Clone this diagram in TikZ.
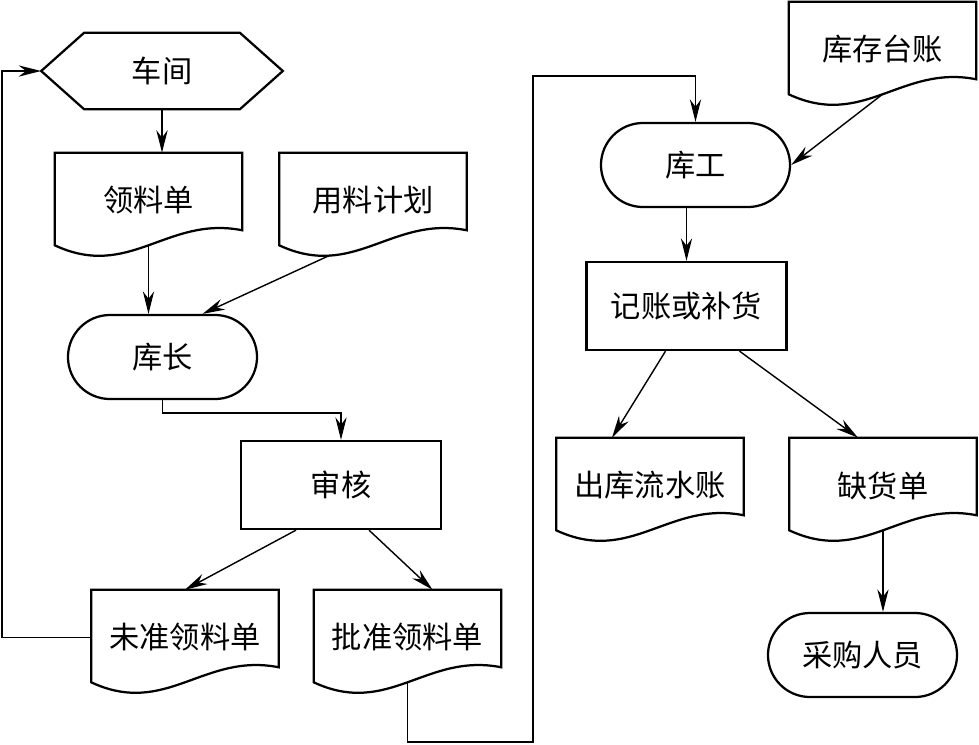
\documentclass[tikz,border=0pt]{standalone}
\usepackage{fontspec}
\setmainfont{Noto Sans CJK SC}
\usetikzlibrary{calc}
\usetikzlibrary{arrows.meta}
\usetikzlibrary{shapes.misc}

\begin{document}
\begin{tikzpicture}[x=0.025cm, y=-0.025cm,
		box/.style={font=\fontsize{21.5}{26}\selectfont, inner sep=0pt},
		doc/.style={box, minimum width=4.675cm, minimum height=2.375cm},
		hexa/.style={box, minimum width=6.025cm, minimum height=1.9cm},
		term/.style={box, draw, line width=1.6pt, rounded rectangle, minimum width=4.725cm, minimum height=2.1cm},
		proc/.style={box, draw, line width=1.6pt, minimum width=5cm, minimum height=2.2cm},
		outline/.style={line width=1.6pt, line join=miter},
		arr/.style={-{Stealth[length=16pt, width=8pt]}, line width=1pt}]
	\useasboundingbox (0,0) rectangle (979,744);
	% left column
	\node[hexa] (cj) at (162,71) {车间};
	\node[doc] (lld) at (148.5,200.5) {领料单};
	\node[doc] (yljh) at (373,200.5) {用料计划};
	\node[term] (kz) at (162.5,357) {库长};
	\node[proc] (sh) at (341,485) {审核};
	\node[doc] (wz) at (185,637.5) {未准领料单};
	\node[doc] (pz) at (407.5,637.5) {批准领料单};
	% right column
	\node[doc] (kcz) at (882.5,49.5) {库存台账};
	\node[term] (kg) at (695.5,165) {库工};
	\node[proc] (jz) at (686.5,306) {记账或补货};
	\node[doc] (cl) at (650,485.5) {出库流水账};
	\node[doc] (qh) at (883,485.5) {缺货单};
	\node[term] (cg) at (862.5,655) {采购人员};
	% hexagon
	\draw[outline] (cj.west) -- ($(cj.north west)+(43,0)$) -- ($(cj.north east)+(-43,0)$) -- (cj.east)
		-- ($(cj.south east)+(-43,0)$) -- ($(cj.south west)+(43,0)$) -- cycle;
	% document shapes
	\foreach \n in {lld,yljh,wz,pz,kcz,cl,qh} {
		\draw[outline] (\n.north east) -- (\n.north west) -- ($(\n.south west)+(0,-3)$)
			.. controls ($(\n.south west)!0.4!(\n.south east)+(0,32)$) and ($(\n.south west)!0.6!(\n.south east)+(0,-33)$)
			.. ($(\n.south east)+(0,-18)$) -- cycle;
		\coordinate (\n-b) at ($(\n.south)+(0,-3)$);
		\coordinate (\n-bl) at ($(\n.south west)!0.27!(\n.south east)+(0,7)$);
	}
	\coordinate (lowR) at (533,742);
	\coordinate (topL) at (533,76);
	% connectors
	\draw[arr] (cj.south) -- (cj.south |- lld.north);
	\draw[arr] (lld-b) -- (lld-b |- kz.north);
	\draw[arr] (yljh-bl) -- ($(kz.north)+(40,0)$);
	\draw[arr] (kz.south) -- ++(0,13) -| (sh.north);
	\draw[arr] ($(sh.south)+(-45,0)$) -- (wz.north);
	\draw[arr] ($(sh.south)+(28,0)$) -- ($(pz.north)+(25,0)$);
	\draw[arr] (wz.west) -- ++(-89,0) |- (cj.west);
	\draw[arr] (pz-b) |- (lowR) -- (topL) -| (kg.north);
	\draw[arr] (kcz-b) -- (kg.east);
	\draw[arr] (jz.north |- kg.south) -- (jz.north);
	\draw[arr] ($(jz.south)+(-21,0)$) -- ($(cl.north)+(-38,0)$);
	\draw[arr] ($(jz.south)+(53,0)$) -- ($(qh.north)+(-25,0)$);
	\draw[arr] (qh-b) -- (qh-b |- cg.north);
\end{tikzpicture}
\end{document}
